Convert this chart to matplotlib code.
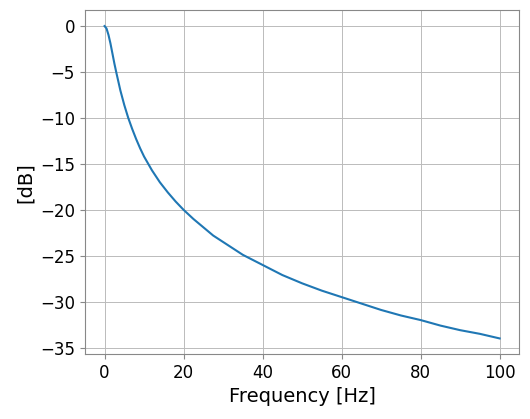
import matplotlib
matplotlib.use("Agg")
import matplotlib.pyplot as plt

freq = [0, 0.5, 1, 1.5, 2, 2.5, 3, 4, 5, 6, 7, 8, 9, 10, 12, 14, 16, 18, 20, 22.5, 25, 27.5,
        30, 35, 40, 45, 50, 55, 60, 65, 70, 75, 80, 85, 90, 95, 100]
db = [0, -0.26, -0.97, -1.9, -3.0, -4.1, -5.1, -7.0, -8.6, -10.0, -11.2, -12.3, -13.3,
      -14.2, -15.7, -17.0, -18.1, -19.1, -20.0, -21.0, -21.9, -22.8,
      -23.5, -24.9, -26.0, -27.1, -28.0, -28.8, -29.5, -30.2, -30.9, -31.5, -32.0,
      -32.6, -33.1, -33.5, -34.0]

fig, ax = plt.subplots(figsize=(5.30, 4.19), dpi=100)
ax.plot(freq, db, color="#1f77b4", lw=1.5)
ax.set_xlabel("Frequency [Hz]", fontsize=14)
ax.set_ylabel("[dB]", fontsize=14)
ax.set_xticks([0, 20, 40, 60, 80, 100])
ax.set_yticks([0, -5, -10, -15, -20, -25, -30, -35])
ax.set_xlim(-5, 105)
ax.set_ylim(-35.7, 1.7)
ax.tick_params(labelsize=12, color="#888888")
ax.grid(True, color="#bbbbbb", lw=0.7)
for s in ax.spines.values():
    s.set_color("#888888")
fig.subplots_adjust(left=0.16, right=0.98, top=0.975, bottom=0.155)
fig.savefig("out.png")
